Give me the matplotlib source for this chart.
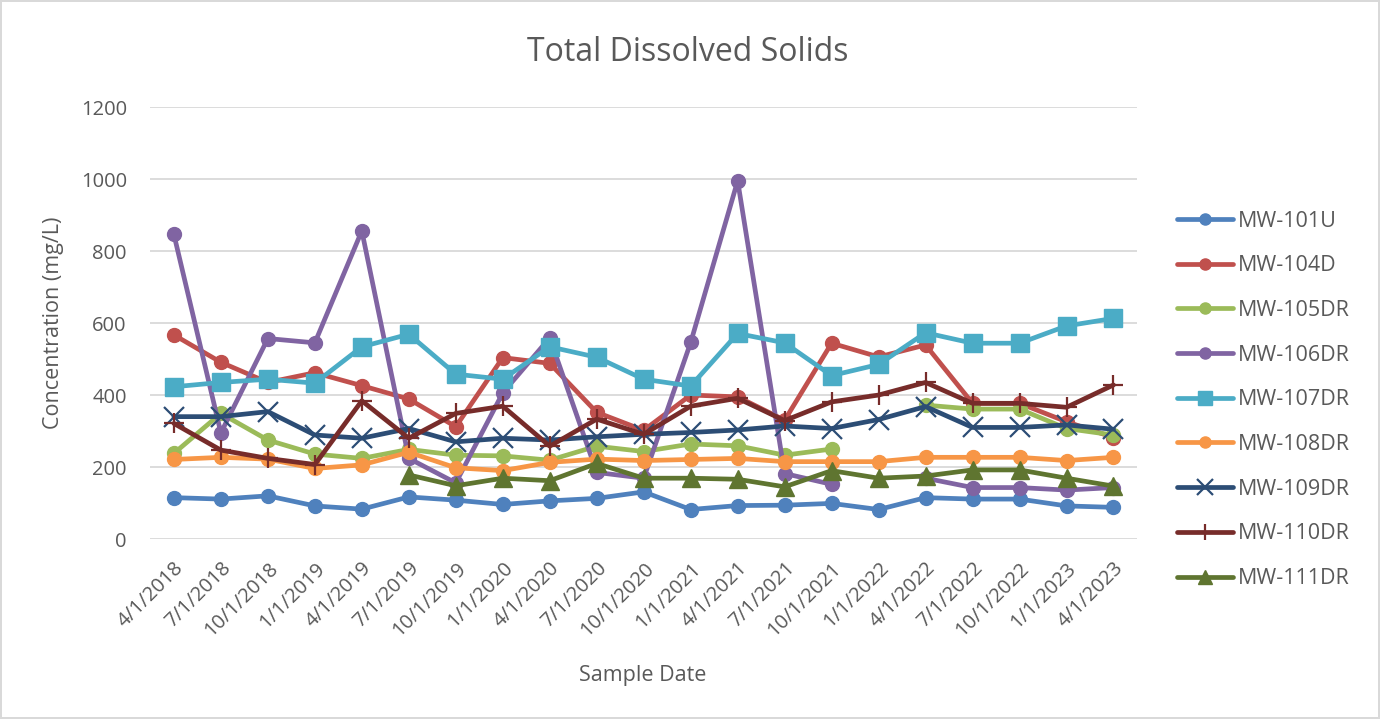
import numpy as np
import matplotlib
matplotlib.use("Agg")
import matplotlib.pyplot as plt

nan = np.nan

# ── data ──────────────────────────────────────────────────────────────────────
DATES = ["4/1/2018", "7/1/2018", "10/1/2018", "1/1/2019", "4/1/2019", "7/1/2019",
         "10/1/2019", "1/1/2020", "4/1/2020", "7/1/2020", "10/1/2020", "1/1/2021",
         "4/1/2021", "7/1/2021", "10/1/2021", "1/1/2022", "4/1/2022", "7/1/2022",
         "10/1/2022", "1/1/2023", "4/1/2023"]

MW_101U = [115, 111, 120, 92, 83, 117, 108, 96, 106, 113, 131, 82, 93, 94, 99,
           82, 115, 111, 111, 92, 88]
MW_104D = [567, 491, 435, 462, 426, 389, 312, 504, 488, 352, 302, 400, 395, 330,
           544, 506, 539, 377, 377, 326, 282]
MW_105DR = [238, 349, 275, 236, 224, 249, 233, 231, 219, 258, 243, 264, 259, 233,
            250, nan, 372, 361, 361, 307, 289]
MW_106DR = [846, 295, 557, 545, 856, 224, 156, 406, 559, 185, 169, 546, 995, 182,
            152, nan, 169, 143, 143, 136, 143]
MW_107DR = [423, 435, 444, 433, 534, 569, 458, 444, 534, 505, 444, 425, 571, 545,
            454, 485, 573, 544, 544, 592, 613]
MW_108DR = [221, 227, 222, 196, 206, 241, 198, 190, 213, 222, 218, 221, 224, 215,
            215, 215, 227, 227, 227, 218, 227]
MW_109DR = [340, 340, 354, 289, 280, 307, 270, 280, 275, 284, 291, 296, 303, 314,
            307, 332, 368, 310, 310, 317, 305]
MW_110DR = [321, 247, 224, 207, 384, 280, 349, 369, 258, 333, 291, 369, 391, 329,
            381, 400, 435, 377, 377, 366, 428]
MW_111DR = [nan, nan, nan, nan, nan, 178, 148, 169, 162, 210, 169, 169, 166, 145,
            190, 169, 175, 192, 192, 169, 147]

SERIES = [
    ("MW-101U", MW_101U, "#4F81BD", "o"),
    ("MW-104D", MW_104D, "#C0504D", "o"),
    ("MW-105DR", MW_105DR, "#9BBB59", "o"),
    ("MW-106DR", MW_106DR, "#8064A2", "o"),
    ("MW-107DR", MW_107DR, "#4BACC6", "s"),
    ("MW-108DR", MW_108DR, "#F79646", "o"),
    ("MW-109DR", MW_109DR, "#2C4D75", "x"),
    ("MW-110DR", MW_110DR, "#772C2A", "+"),
    ("MW-111DR", MW_111DR, "#5F7530", "^"),
]

# ── plot ──────────────────────────────────────────────────────────────────────
plt.rcParams["font.family"] = ["Open Sans", "DejaVu Sans"]
TEXT = "#595959"
GRID = "#D9D9D9"

fig = plt.figure(figsize=(13.8, 7.19), dpi=100)
fig.patch.set_edgecolor(GRID)
fig.patch.set_linewidth(1.5)
ax = fig.add_axes([0.109, 0.2503, 0.7149, 0.6008])

x = np.arange(len(DATES))
for name, vals, color, mk in SERIES:
    kw = dict(color=color, lw=3.4, marker=mk, label=name, solid_capstyle="round")
    if mk == "o":
        kw.update(markersize=10)
    elif mk == "s":
        kw.update(markersize=13)
    elif mk == "x":
        kw.update(markersize=14, mew=1.6)
    elif mk == "+":
        kw.update(markersize=15, mew=1.6)
    elif mk == "^":
        kw.update(markersize=13)
    ax.plot(x, vals, **kw)

ax.set_xlim(-0.5, len(DATES) - 0.5)
ax.set_ylim(0, 1200)
ax.set_yticks(range(0, 1201, 200))
ax.set_xticks(x)
ax.set_xticklabels(DATES, rotation=45, ha="right", rotation_mode="anchor")
ax.tick_params(axis="both", length=0, colors=TEXT, labelsize=14.5)
ax.tick_params(axis="y", pad=17)
ax.tick_params(axis="x", pad=14)
for s in ax.spines.values():
    s.set_visible(False)
ax.yaxis.grid(True, color=GRID, lw=1.3)
ax.set_axisbelow(True)

ax.set_ylabel("Concentration (mg/L)", fontsize=15.5, color=TEXT, labelpad=12)
fig.text(0.466, 0.061, "Sample Date", ha="center", va="center", fontsize=15.5, color=TEXT)
fig.text(0.4985, 0.927, "Total Dissolved Solids", ha="center", va="center",
         fontsize=23, color=TEXT)

leg = fig.legend(loc="upper left", bbox_to_anchor=(0.839, 0.734), frameon=False,
                 fontsize=15.5, labelcolor=TEXT, handlelength=2.6, handletextpad=0.2,
                 labelspacing=1.1, markerscale=0.8)

plt.savefig("out.png", dpi=100)
